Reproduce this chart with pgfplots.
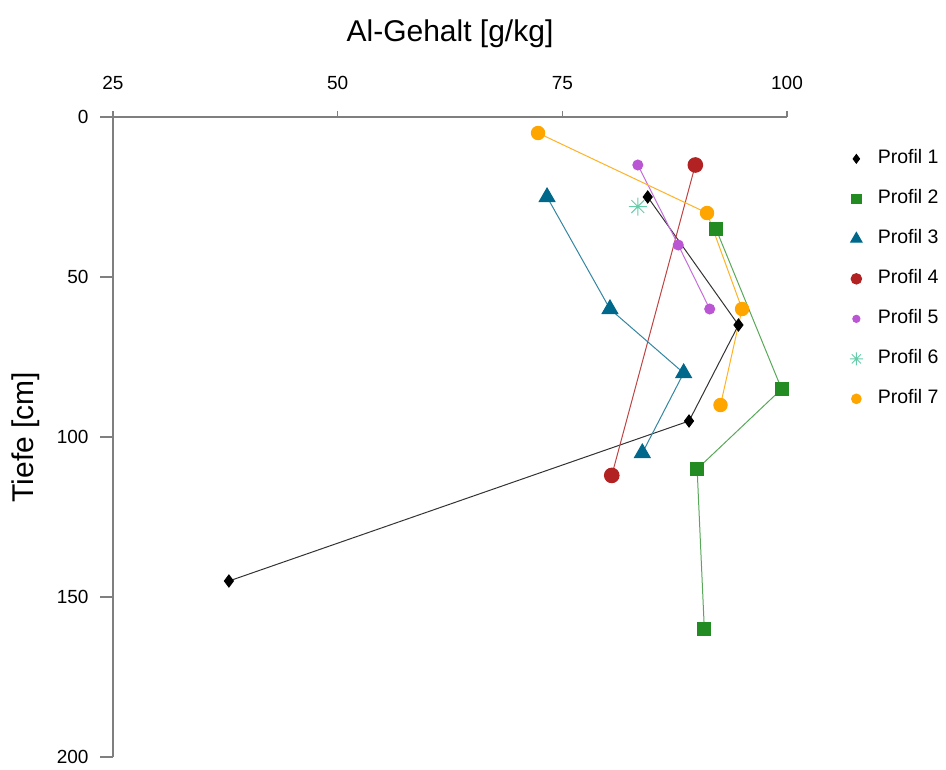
\documentclass[border=0pt]{standalone}
\usepackage{fontspec}
\setmainfont{Liberation Sans}
\usepackage{pgfplots}
\pgfplotsset{compat=1.18}
\definecolor{c1}{HTML}{000000}
\definecolor{c2}{HTML}{228B22}
\definecolor{c3}{HTML}{00688B}
\definecolor{c4}{HTML}{B22222}
\definecolor{c5}{HTML}{BA55D3}
\definecolor{c6}{HTML}{66CDAA}
\definecolor{c7}{HTML}{FFA500}
\definecolor{axgray}{HTML}{7F7F7F}
\pgfdeclareplotmark{rstar}{%
  \pgfpathmoveto{\pgfqpoint{-\pgfplotmarksize}{0pt}}\pgfpathlineto{\pgfqpoint{\pgfplotmarksize}{0pt}}%
  \pgfpathmoveto{\pgfqpoint{0pt}{-\pgfplotmarksize}}\pgfpathlineto{\pgfqpoint{0pt}{\pgfplotmarksize}}%
  \pgfpathmoveto{\pgfqpoint{-0.707\pgfplotmarksize}{-0.707\pgfplotmarksize}}\pgfpathlineto{\pgfqpoint{0.707\pgfplotmarksize}{0.707\pgfplotmarksize}}%
  \pgfpathmoveto{\pgfqpoint{-0.707\pgfplotmarksize}{0.707\pgfplotmarksize}}\pgfpathlineto{\pgfqpoint{0.707\pgfplotmarksize}{-0.707\pgfplotmarksize}}%
  \pgfusepathqstroke}
\begin{document}
\begin{tikzpicture}
\useasboundingbox (0,0) rectangle (946pt,-770pt);
\begin{axis}[
  anchor=north west, at={(113pt,-117pt)},
  scale only axis, width=674pt, height=640pt,
  xmin=25, xmax=100, ymin=0, ymax=200,
  y dir=reverse,
  axis x line*=top, axis y line*=left,
  x axis line style={-}, y axis line style={-},
  axis line style={draw=axgray, line width=1.4pt},
  tick style={draw=axgray, line width=1.4pt},
  tick align=outside, major tick length=13pt,
  xtick style={/pgfplots/major tick length=6pt},
  xtick={25,50,75,100}, ytick={0,50,100,150,200},
  /pgf/number format/assume math mode=true,
  tick label style={font=\fontsize{19}{20}\selectfont},
  xticklabel shift=11pt, yticklabel shift=8pt,
  xlabel={Al-Gehalt [g/kg]}, ylabel={Tiefe [cm]},
  label style={font=\fontsize{30}{32}\selectfont},
  xlabel style={at={(axis description cs:0.5,1.13)}, anchor=center},
  ylabel style={at={(axis description cs:-0.13,0.5)}, anchor=center, rotate=0},
  clip=false,
  legend style={draw=none, fill=none, inner sep=0pt, at={(axis description cs:1.093,0.949)}, anchor=north west,
    font=\fontsize{19.5}{22}\selectfont, row sep=22pt,
    nodes={inner sep=0pt, text height=14pt, text depth=4pt},
    /tikz/every even column/.append style={column sep=0pt}},
  legend cell align=left,
  legend image code/.code={\draw[#1, only marks, every mark/.append style={scale=0.72}] plot coordinates {(6pt,0pt)};},
  every axis plot/.append style={line width=1pt},
]
\addplot[color=c1!80, mark=diamond*, mark size=6pt, mark options={fill=c1, draw=c1}] coordinates {(84.5,25) (94.6,65) (89.1,95) (37.9,145)};
\addlegendentry{\hspace{15pt}Profil 1}
\addplot[color=c2!75, mark=square*, mark size=6.5pt, mark options={fill=c2, draw=c2}] coordinates {(92.1,35) (99.4,85) (90.0,110) (90.8,160)};
\addlegendentry{\hspace{15pt}Profil 2}
\addplot[color=c3!80, mark=triangle*, mark size=9pt, mark options={fill=c3, draw=c3}] coordinates {(73.3,25) (80.3,60) (88.5,80) (83.9,105)};
\addlegendentry{\hspace{15pt}Profil 3}
\addplot[color=c4!85, mark=*, mark size=7.3pt, mark options={fill=c4, draw=c4}] coordinates {(89.8,15) (80.5,112)};
\addlegendentry{\hspace{15pt}Profil 4}
\addplot[color=c5!85, mark=*, mark size=5pt, mark options={fill=c5, draw=c5}] coordinates {(83.4,15) (87.9,40) (91.4,60)};
\addlegendentry{\hspace{15pt}Profil 5}
\addplot[color=c6, mark=rstar, mark size=9pt, mark options={draw=c6, line width=1pt}] coordinates {(83.4,28)};
\addlegendentry{\hspace{15pt}Profil 6}
\addplot[color=c7!85, mark=*, mark size=6.7pt, mark options={fill=c7, draw=c7}] coordinates {(72.3,5) (91.1,30) (95.0,60) (92.6,90)};
\addlegendentry{\hspace{15pt}Profil 7}
\end{axis}
\end{tikzpicture}
\end{document}
